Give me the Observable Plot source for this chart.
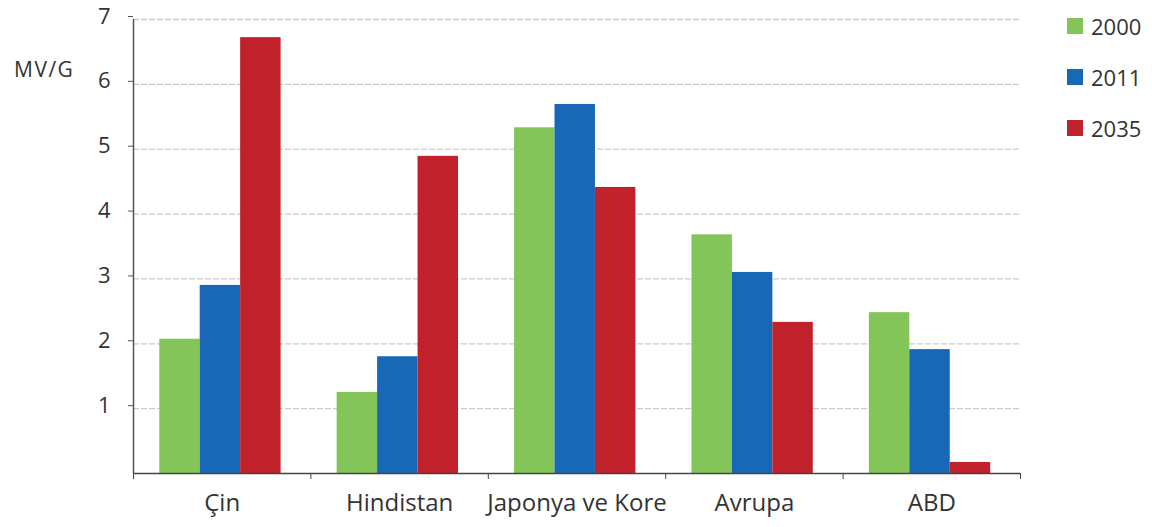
<!DOCTYPE html>
<html>
<head>
<meta charset="utf-8">
<script src="https://cdn.jsdelivr.net/npm/d3@7"></script>
<script src="https://cdn.jsdelivr.net/npm/@observablehq/plot@0.6"></script>
<style>
  html, body { margin: 0; padding: 0; background: #fff; }
  #wrap { position: relative; width: 1152px; height: 527px; font-family: "Open Sans", sans-serif; color: #333; }
  #unit { position: absolute; left: 14px; top: 55px; font-size: 21px; letter-spacing: 1.5px; line-height: 28px; }
  #legend { position: absolute; left: 1067px; top: 10px; font-size: 22px; }
  .item { display: flex; align-items: center; height: 32px; margin-bottom: 19px; }
  .sw { width: 16px; height: 16px; margin-right: 8px; }
  #chart svg text { font-size: 24px; }
  #chart g[aria-label="y-axis tick label"] text { font-size: 22px; }
</style>
</head>
<body>
<div id="wrap">
  <div id="chart"></div>
  <div id="unit">MV/G</div>
  <div id="legend"></div>
</div>
<script>
// Regions and years
const regions = ["Çin", "Hindistan", "Japonya ve Kore", "Avrupa", "ABD"];
const years = ["2000", "2011", "2035"];
const colors = ["#84c55a", "#1868b7", "#c1212b"];

// MV/G values per region, one list per year
const v2000 = [2.07, 1.25, 5.33, 3.68, 2.48];
const v2011 = [2.90, 1.80, 5.69, 3.10, 1.91];
const v2035 = [6.72, 4.89, 4.41, 2.33, 0.17];

const yTicks = [1, 2, 3, 4, 5, 6, 7];

const series = [v2000, v2011, v2035];
const rows = [];
regions.forEach((r, i) => {
  years.forEach((y, j) => rows.push({region: r, ri: i, year: y, yi: j, value: series[j][i]}));
});

// bar layout within each region slot (slot width = 1 on the x scale)
const pad = 0.148, bw = 0.228;

const plot = Plot.plot({
  width: 1152,
  height: 527,
  marginLeft: 133,
  marginRight: 132,
  marginTop: 19,
  marginBottom: 54,
  style: {fontFamily: "Open Sans, sans-serif", fontSize: "24px", color: "#333", background: "transparent"},
  x: {domain: [0, regions.length], axis: null},
  y: {domain: [0, 7], axis: null},
  color: {domain: years, range: colors},
  marks: [
    Plot.ruleY(yTicks, {stroke: "#cfc9c9", strokeWidth: 1.3, strokeDasharray: "6,2"}),
    Plot.rectY(rows, {
      x1: d => d.ri + pad + d.yi * bw,
      x2: d => d.ri + pad + (d.yi + 1) * bw,
      y1: 0,
      y2: "value",
      fill: "year"
    }),
    // y axis
    Plot.ruleX([0], {stroke: "#555", strokeWidth: 1.5}),
    Plot.axisY({ticks: yTicks, tickSize: 5, tickPadding: 18, dy: -3, tickFormat: d3.format("d"), label: null, stroke: "#555"}),
    // x axis: baseline, boundary ticks, region labels
    Plot.ruleY([0], {stroke: "#444", strokeWidth: 1.5}),
    Plot.axisX({ticks: d3.range(regions.length + 1), tickSize: 6, tickFormat: () => "", label: null, stroke: "#444"}),
    Plot.axisX({
      ticks: regions.map((_, i) => i + 0.5),
      tickSize: 0,
      tickPadding: 20,
      tickFormat: t => regions[Math.floor(t)],
      label: null
    })
  ]
});
document.getElementById("chart").append(plot);

// legend
const lg = document.getElementById("legend");
years.forEach((y, j) => {
  const it = document.createElement("div");
  it.className = "item";
  it.innerHTML = `<div class="sw" style="background:${colors[j]}"></div><span>${y}</span>`;
  lg.append(it);
});
</script>
</body>
</html>
